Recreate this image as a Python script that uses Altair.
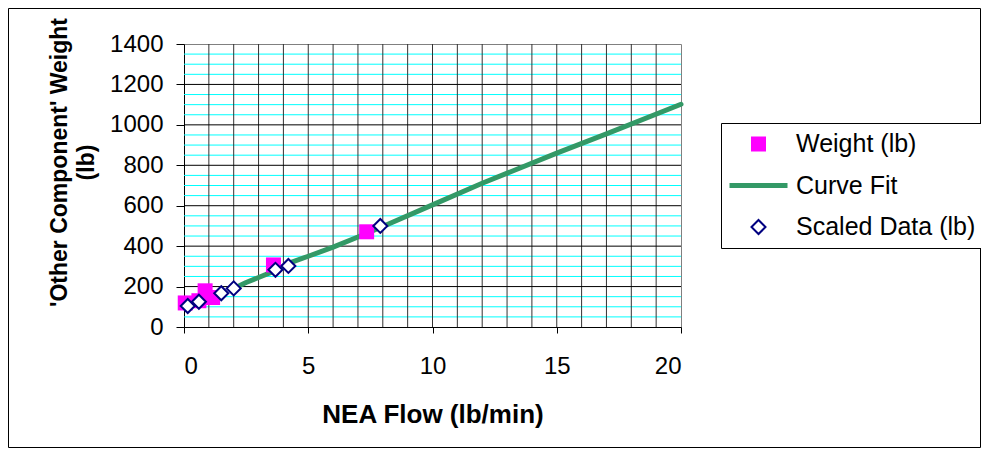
import altair as alt
import pandas as pd

# ---- data ----
series_names = ["Weight (lb)", "Curve Fit", "Scaled Data (lb)"]

weight_x = [0.05, 0.6, 0.85, 1.15, 3.6, 7.35]
weight_y = [119, 130, 179, 146, 307, 471]

fit_x = [2.0, 2.5, 3.0, 3.7, 4.2, 5.0, 6.0, 7.0, 8.0, 10.0, 12.0, 15.0, 17.0, 20.0]
fit_y = [191, 220, 245, 280, 315, 350, 395, 445, 497, 604, 711, 860, 955, 1102]

scaled_x = [0.15, 0.6, 1.5, 2.0, 3.68, 4.2, 7.9]
scaled_y = [104, 125, 167, 191, 283, 302, 500]

x_ticks = [0, 5, 10, 15, 20]
y_ticks = [0, 200, 400, 600, 800, 1000, 1200, 1400]
x_grid = list(range(1, 20))
y_major_grid = [200, 400, 600, 800, 1000, 1200]
y_minor_grid = [v for v in range(50, 1400, 50) if v % 200 != 0]

y_title = ["'Other Component' Weight", "(lb)"]

FONT = "Liberation Sans"

df = pd.concat([
    pd.DataFrame({"x": weight_x, "y": weight_y, "series": series_names[0]}),
    pd.DataFrame({"x": fit_x, "y": fit_y, "series": series_names[1]}),
    pd.DataFrame({"x": scaled_x, "y": scaled_y, "series": series_names[2]}),
], ignore_index=True)

xs = alt.Scale(domain=[0, 20], nice=False, zero=False)
ys = alt.Scale(domain=[0, 1400], nice=False, zero=False)

x_axis = alt.Axis(values=x_ticks, grid=False, domainColor="black", tickColor="black",
                  tickSize=6, labelPadding=21, labelFontSize=24, labelFont=FONT,
                  labelColor="black", format="d", title="NEA Flow (lb/min)", titleFont=FONT,
                  titleFontSize=26, titleFontWeight="bold", titleColor="black",
                  titleBaseline="alphabetic", titleY=95)
y_axis = alt.Axis(values=y_ticks, grid=False, domainColor="black", tickColor="black",
                  tickSize=8, labelPadding=13, labelFontSize=24, labelFont=FONT,
                  labelColor="black", format="d", title=y_title,
                  titleFont=FONT, titleFontSize=23, titleFontWeight="bold",
                  titleColor="black", titleAngle=270, titleBaseline="middle",
                  titleAlign="center", titleX=-125, titleY=118, titleLineHeight=27)

X = alt.X("x:Q", scale=xs, axis=x_axis)
Y = alt.Y("y:Q", scale=ys, axis=y_axis)

fill_sc = alt.Scale(domain=series_names, range=["#FF00FF", "#339966", "#FFFFFF"])
stroke_sc = alt.Scale(domain=series_names, range=["#FF00FF", "#339966", "#000080"])
shape_sc = alt.Scale(domain=series_names, range=["square", "stroke", "diamond"])
size_sc = alt.Scale(type="ordinal", domain=series_names, range=[225, 3364, 196])
sw_sc = alt.Scale(type="ordinal", domain=series_names, range=[0, 5, 2])

point_enc = dict(
    x=X, y=Y,
    fill=alt.Fill("series:N", scale=fill_sc),
    stroke=alt.Stroke("series:N", scale=stroke_sc),
    shape=alt.Shape("series:N", scale=shape_sc),
    size=alt.Size("series:N", scale=size_sc),
    strokeWidth=alt.StrokeWidth("series:N", scale=sw_sc),
)

# frame around whole chart
frame = alt.Chart(alt.Data(values=[{}])).mark_rect(
    fillOpacity=0, stroke="black", strokeWidth=1
).encode(x=alt.value(-175.5), x2=alt.value(796.5), y=alt.value(-35.5), y2=alt.value(403.5))

xgrid = alt.Chart(pd.DataFrame({"x": x_grid})).mark_rule(color="#333333", strokeWidth=1).encode(x=X)
yminor = alt.Chart(pd.DataFrame({"y": y_minor_grid})).mark_rule(color="#00FFFF", strokeWidth=1).encode(y=Y)
ymajor = alt.Chart(pd.DataFrame({"y": y_major_grid})).mark_rule(color="#000000", strokeWidth=1).encode(y=Y)

line = alt.Chart(df).transform_filter(alt.datum.series == "Curve Fit").mark_line(
    strokeWidth=5, strokeCap="round", strokeJoin="round"
).encode(x=X, y=Y, stroke=alt.Stroke("series:N", scale=stroke_sc), order="x:Q")

squares = alt.Chart(df).transform_filter(alt.datum.series == "Weight (lb)").mark_point(
    filled=True, opacity=1).encode(**point_enc)
diamonds = alt.Chart(df).transform_filter(alt.datum.series == "Scaled Data (lb)").mark_point(
    filled=True, opacity=1).encode(**point_enc)

chart = alt.layer(frame, yminor, xgrid, ymajor, line, squares, diamonds).properties(
    width=497, height=283,
    padding={"left": 176, "top": 36, "right": 300, "bottom": 121},
    autosize=alt.AutoSizeParams(type="none"),
    background="white",
).configure_view(stroke="#808080", strokeWidth=1).configure_legend(
    orient="none", legendX=537, legendY=79, title=None, padding=6,
    strokeColor="black", fillColor="white", labelFont=FONT, labelFontSize=25,
    labelColor="black", labelOffset=6, rowPadding=11.5, clipHeight=30, labelLimit=400,
)

chart.save("out.html", embed_options={"renderer": "svg", "actions": False})
